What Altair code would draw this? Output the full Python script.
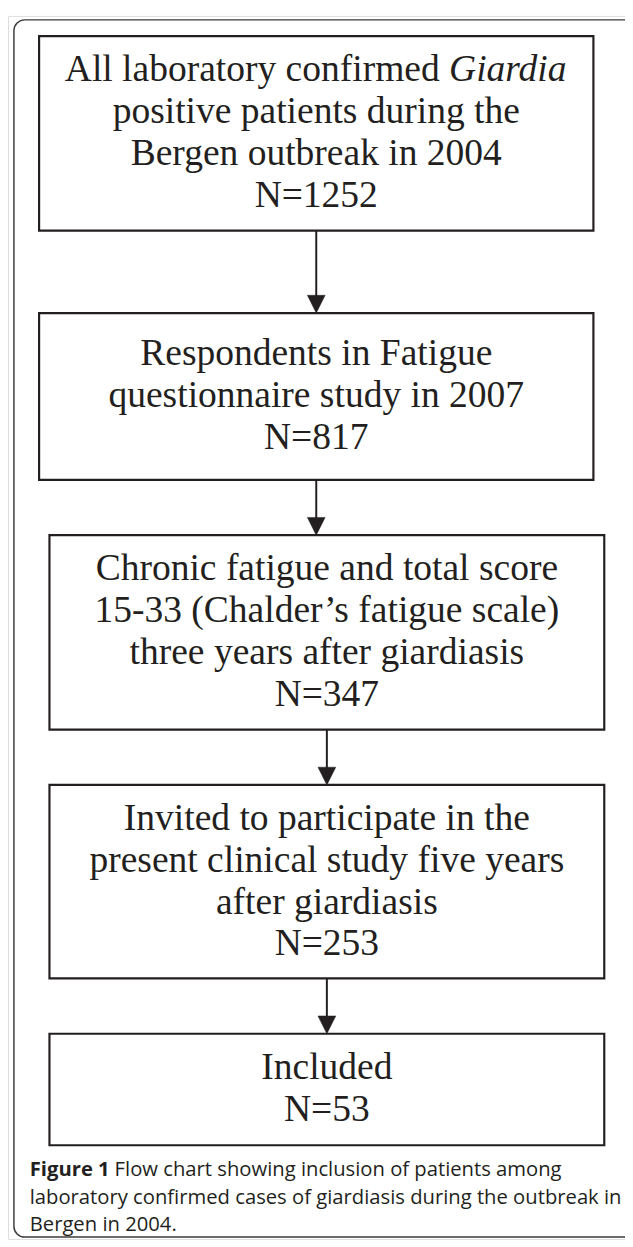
import altair as alt
import pandas as pd

# ---- content ----
box_lines = [
    ["All laboratory confirmed Giardia", "positive patients during the", "Bergen outbreak in 2004"],
    ["Respondents in Fatigue", "questionnaire study in 2007"],
    ["Chronic fatigue and total score", "15-33 (Chalder\u2019s fatigue scale)", "three years after giardiasis"],
    ["Invited to participate in the", "present clinical study five years", "after giardiasis"],
    ["Included"],
]
counts = [1252, 817, 347, 253, 53]
italic_word = "Giardia"

caption_bold = "Figure 1"
caption_lines = [
    "Flow chart showing inclusion of patients among",
    "laboratory confirmed cases of giardiasis during the outbreak in",
    "Bergen in 2004.",
]

# ---- layout (page pixels) ----
M = 8
W, H = 625, 1239
box_left = [39.5, 39.5, 50, 50, 50]
box_right = [601, 601, 612, 612, 612]
box_top = [28.5, 309, 534, 787, 1039]
box_bottom = [225.5, 478, 731, 983, 1152]
LH = 42.5
FS = 38
HEAD = 18
CFS = 20.5

boxes = pd.DataFrame({
    "x": [v - M for v in box_left], "x2": [v - M for v in box_right],
    "y": [v - M for v in box_top], "y2": [v - M for v in box_bottom],
})

reg_rows, ital_rows = [], []
for i, lines in enumerate(box_lines):
    lines = lines + [f"N={counts[i]}"]
    n = len(lines)
    cx = (box_left[i] + box_right[i]) / 2 - M
    first = (box_top[i] + box_bottom[i]) / 2 + 11 - (n - 1) * LH / 2 - M
    for k, t in enumerate(lines):
        y = first + k * LH
        if t.endswith(italic_word):
            head = t[: -len(italic_word)].rstrip()
            total = 13.415 * FS
            split = cx - total / 2 + 10.248 * FS
            reg_rows.append({"x": split - 0.25 * FS, "y": y, "t": head, "a": "right"})
            ital_rows.append({"x": split, "y": y, "t": italic_word})
        else:
            reg_rows.append({"x": cx, "y": y, "t": t, "a": "center"})

reg_df = pd.DataFrame(reg_rows)
ital_df = pd.DataFrame(ital_rows)

arrows = pd.DataFrame({
    "x": [(box_left[i] + box_right[i]) / 2 - M for i in range(4)],
    "y": [box_bottom[i] - M for i in range(4)],
    "y2": [box_top[i + 1] - M - HEAD + 2 for i in range(4)],
    "yh": [box_top[i + 1] - M - HEAD / 2 for i in range(4)],
})

frame = pd.DataFrame({"x": [14 - M], "x2": [648 - M], "y": [12 - M], "y2": [1245 - M]})

cap_y = [1183 - M, 1211 - M, 1239 - M]
cap_bold_df = pd.DataFrame({"x": [30 - M], "y": [cap_y[0]], "t": [caption_bold]})
cap_reg_df = pd.DataFrame({
    "x": [116 - M, 30 - M, 30 - M],
    "y": cap_y,
    "t": caption_lines,
})

X = lambda f="x": alt.X(f"{f}:Q", scale=alt.Scale(domain=[0, W], nice=False, zero=False), axis=None)
Y = lambda f="y": alt.Y(f"{f}:Q", scale=alt.Scale(domain=[0, H], nice=False, zero=False, reverse=True), axis=None)

INK = "#231f20"

frame_l = alt.Chart(frame).mark_rect(
    fill="white", fillOpacity=0, stroke="#3d3d3d", strokeWidth=1.5, cornerRadius=11
).encode(x=X(), x2="x2:Q", y=Y(), y2="y2:Q")

box_l = alt.Chart(boxes).mark_rect(
    fill="white", fillOpacity=0, stroke=INK, strokeWidth=2.2
).encode(x=X(), x2="x2:Q", y=Y(), y2="y2:Q")

rule_l = alt.Chart(arrows).mark_rule(color=INK, strokeWidth=2).encode(x=X(), y=Y(), y2="y2:Q")

head_l = alt.Chart(arrows).mark_point(
    shape="M-1,-1L1,-1L0,1Z", filled=True, fill=INK, stroke=INK, strokeWidth=0.5,
    size=HEAD * HEAD, opacity=1
).encode(x=X(), y=Y("yh"))

txt_c = alt.Chart(reg_df[reg_df.a == "center"]).mark_text(
    font="Liberation Serif", fontSize=FS, color=INK, align="center", baseline="alphabetic"
).encode(x=X(), y=Y(), text="t:N")

txt_r = alt.Chart(reg_df[reg_df.a == "right"]).mark_text(
    font="Liberation Serif", fontSize=FS, color=INK, align="right", baseline="alphabetic"
).encode(x=X(), y=Y(), text="t:N")

txt_i = alt.Chart(ital_df).mark_text(
    font="Liberation Serif", fontSize=FS, fontStyle="italic", color=INK, align="left", baseline="alphabetic"
).encode(x=X(), y=Y(), text="t:N")

cap_b = alt.Chart(cap_bold_df).mark_text(
    font="Open Sans", fontSize=CFS, fontWeight="bold", color=INK, align="left", baseline="alphabetic"
).encode(x=X(), y=Y(), text="t:N")

cap_r = alt.Chart(cap_reg_df).mark_text(
    font="Open Sans", fontSize=CFS, color=INK, align="left", baseline="alphabetic"
).encode(x=X(), y=Y(), text="t:N")

chart = alt.layer(
    frame_l, box_l, rule_l, head_l, txt_c, txt_r, txt_i, cap_b, cap_r
).properties(
    width=W, height=H, padding=0, autosize=alt.AutoSizeParams(type="none")
).configure_view(stroke=None).configure(background="white")

chart.save("out.html", embed_options={"renderer": "svg", "actions": False})
